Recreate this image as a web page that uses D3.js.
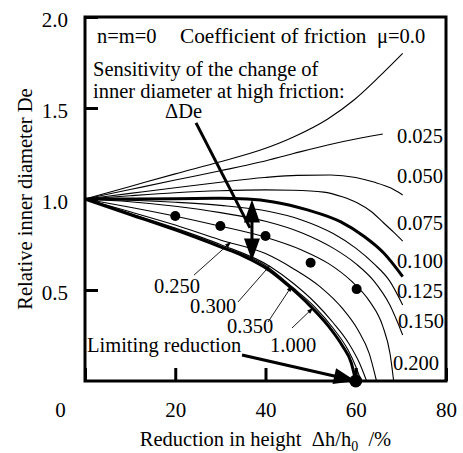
<!DOCTYPE html>
<html><head><meta charset="utf-8">
<script src="https://cdn.jsdelivr.net/npm/d3@7"></script>
<style>
html,body{margin:0;padding:0;background:#fff;}
svg, svg text{font-family:"Liberation Serif", serif !important;}
</style></head><body>
<svg id="chart" width="463" height="453"></svg>
<script>
// ---------------- data ----------------
const xTicks = [0, 20, 40, 60, 80];
const yTicks = [0.5, 1.0, 1.5, 2.0];

// friction curves: [reduction %, relative inner diameter]
const mu0000 = [[0,1],[10,1.069],[20,1.138],[30,1.205],[38.9,1.269],[46.2,1.341],[53.8,1.44],[59.6,1.544],[64.9,1.665],[70.4,1.80]];
const mu0025 = [[0,1],[10,1.052],[20,1.104],[30,1.155],[38.9,1.203],[46.2,1.25],[53.8,1.297],[61.1,1.335],[66,1.357]];
const mu0050 = [[0,1],[10,1.031],[20,1.062],[30,1.092],[39.8,1.118],[47,1.13],[54.4,1.132],[60,1.118],[64,1.093],[67.8,1.06],[70.4,1.022]];
const mu0075 = [[0,1],[10,1.018],[20,1.034],[30,1.045],[40,1.05],[46,1.048],[52.9,1.038],[57,1.012],[60.4,0.978],[63.5,0.93],[66.2,0.868],[68.5,0.815],[70.4,0.769]];
const mu0100 = [[0,1],[10,1.0],[20,1.002],[30,1.004],[36,1.0],[41.8,0.984],[49.3,0.94],[56.7,0.874],[61.8,0.795],[66.2,0.703],[70.4,0.574]];
const mu0125 = [[0,1],[10,0.993],[20,0.982],[30,0.965],[40,0.935],[48,0.885],[55,0.81],[60,0.73],[64,0.645],[67.5,0.55],[70.4,0.418]];
const mu0150 = [[0,1],[10,0.985],[20,0.96],[30,0.925],[40,0.878],[48,0.815],[55,0.73],[60,0.645],[64,0.55],[67.5,0.42],[70.4,0.253]];
const mu0200 = [[0,1],[10,0.955],[19.8,0.907],[29.8,0.852],[40,0.79],[48,0.72],[54,0.645],[59,0.55],[63,0.44],[66,0.3],[67.6,0.15],[68.4,0]];
const mu0250 = [[0,1],[10,0.93],[20,0.857],[30,0.775],[40,0.7],[46,0.62],[52,0.52],[57,0.4],[60.5,0.28],[63,0.15],[64.6,0]];
const mu0300 = [[0,1],[10,0.92],[20,0.84],[30,0.75],[41.1,0.628],[46,0.54],[51,0.43],[55,0.32],[58.5,0.205],[60.8,0.1],[62.4,0]];
const mu0350 = [[0,1],[10,0.917],[20,0.834],[30,0.742],[40,0.635],[46,0.515],[51,0.405],[55,0.29],[58.3,0.17],[60,0.08],[61.2,0]];
const mu1000 = [[0,1],[10,0.915],[20,0.83],[30,0.737],[35,0.688],[40,0.622],[45,0.525],[50,0.41],[54,0.3],[57,0.195],[59,0.1],[60,0]];

const muNames = ["0.0","0.025","0.050","0.075","0.100","0.125","0.150","0.200","0.250","0.300","0.350","1.000"];
const muSeries = [mu0000, mu0025, mu0050, mu0075, mu0100, mu0125, mu0150, mu0200, mu0250, mu0300, mu0350, mu1000];
const muThick = ["0.100", "1.000"];

// experimental points
const dotX = [20, 30, 40, 50, 60.2];
const dotY = [0.907, 0.852, 0.797, 0.65, 0.505];
const limitPoint = [60, 0];

// ---------------- layout ----------------
const svg = d3.select("#chart");
const x = d3.scaleLinear().domain([0, 80]).range([85, 446]);
const y = d3.scaleLinear().domain([0, 2]).range([381, 17]);
const FONT = "Liberation Serif";

const curves = muNames.map((n, i) => ({ name: n, pts: muSeries[i], thick: muThick.includes(n) }));
const byName = Object.fromEntries(curves.map(c => [c.name, c]));
function valueAt(name, xv) {
  const p = byName[name].pts;
  for (let i = 1; i < p.length; i++) {
    if (xv <= p[i][0]) {
      const t = (xv - p[i-1][0]) / (p[i][0] - p[i-1][0]);
      return p[i-1][1] + t * (p[i][1] - p[i-1][1]);
    }
  }
  return p[p.length-1][1];
}

const line = d3.line().x(d => x(d[0])).y(d => y(d[1])).curve(d3.curveMonotoneX);

svg.append("g").selectAll("path").data(curves).join("path")
  .attr("d", d => line(d.pts))
  .attr("fill", "none").attr("stroke", "#000")
  .attr("stroke-width", d => d.thick ? 3 : 1.1)
  .attr("stroke-linejoin", "round");

// dots
svg.append("g").selectAll("circle").data(dotX.map((d, i) => [d, dotY[i]])).join("circle")
  .attr("cx", d => x(d[0])).attr("cy", d => y(d[1])).attr("r", 5).attr("fill", "#000");
svg.append("circle").attr("cx", x(limitPoint[0])).attr("cy", y(limitPoint[1])).attr("r", 6.5).attr("fill", "#000");

// axes
const gx = svg.append("g").attr("transform", `translate(0,${y(0)})`)
  .call(d3.axisBottom(x).tickValues(xTicks).tickSize(-13).tickPadding(21).tickFormat(d3.format("d")));
gx.select(".domain").remove();
gx.attr("font-family", FONT).attr("font-size", 21);
gx.selectAll(".tick line").attr("stroke-width", 3);
gx.selectAll(".tick").filter(d => d === 0).select("text").attr("dx", -25);

const gy = svg.append("g").attr("transform", `translate(${x(0)},0)`)
  .call(d3.axisLeft(y).tickValues(yTicks).tickSize(-13).tickPadding(17).tickFormat(d3.format(".1f")));
gy.select(".domain").remove();
gy.attr("font-family", FONT).attr("font-size", 21);
gy.selectAll(".tick line").attr("stroke-width", 3);
gy.selectAll(".tick text").attr("dy", "0.45em");

// frame
svg.append("rect").attr("x", x(0)).attr("y", y(2)).attr("width", x(80) - x(0)).attr("height", y(0) - y(2))
  .attr("fill", "none").attr("stroke", "#000").attr("stroke-width", 3);

// helper text
function txt(xv, yv, s, opts = {}) {
  return svg.append("text").attr("x", x(xv)).attr("y", y(yv))
    .attr("font-family", FONT).attr("font-size", opts.size || 20.5)
    .attr("text-anchor", opts.anchor || "start")
    .attr("xml:space", "preserve").style("white-space", "pre")
    .text(s);
}
function arrowHead(x1, y1, x2, y2, len, hw) {
  const dx = x2 - x1, dy = y2 - y1, L = Math.hypot(dx, dy);
  const ux = dx / L, uy = dy / L;
  const bx = x2 - ux * len, by = y2 - uy * len;
  return [[x2, y2], [bx - uy * hw, by + ux * hw], [bx + uy * hw, by - ux * hw]];
}
function drawArrow(p1, p2, width, len, hw) {
  const [x1, y1, x2, y2] = [x(p1[0]), y(p1[1]), x(p2[0]), y(p2[1])];
  const L = Math.hypot(x2 - x1, y2 - y1);
  const ex = x2 - (x2 - x1) / L * len * 0.7, ey = y2 - (y2 - y1) / L * len * 0.7;
  svg.append("line").attr("x1", x1).attr("y1", y1).attr("x2", ex).attr("y2", ey)
    .attr("stroke", "#000").attr("stroke-width", width);
  svg.append("polygon").attr("points", arrowHead(x1, y1, x2, y2, len, hw).map(p => p.join(",")).join(" "))
    .attr("fill", "#000");
}

// header texts
txt(2.66, 1.857, "n=m=0");
txt(21.05, 1.857, "Coefficient of friction", { size: 21.3 });
txt(64.7, 1.857, "μ=0.0");
txt(1.77, 1.676, "Sensitivity of the change of");
txt(1.77, 1.555, "inner diameter at high friction:");
txt(17.73, 1.445, "ΔDe");

// μ labels on the right
const rightLabels = [["0.025", 69.14, 1.308], ["0.050", 69.14, 1.088], ["0.075", 69.14, 0.83], ["0.100", 69.14, 0.621],
                     ["0.125", 69.14, 0.456], ["0.150", 69.36, 0.291], ["0.200", 68.25, 0.06]];
rightLabels.forEach(d => txt(d[1], d[2], d[0]));

// μ labels with leaders
const leaderLabels = [
  { name: "0.250", tx: 15.29, ty: 0.484, sx: 24.16, sy: 0.582, tipX: 32.35 },
  { name: "0.300", tx: 23.27, ty: 0.374, sx: 33.9, sy: 0.434, tipX: 41.0 },
  { name: "0.350", tx: 31.47, ty: 0.264, sx: 40.55, sy: 0.324, tipX: 45.87 },
  { name: "1.000", tx: 41.0, ty: 0.159, sx: 45.87, sy: 0.291, tipX: 50.53 }
];
leaderLabels.forEach(d => {
  txt(d.tx, d.ty, d.name);
  drawArrow([d.sx, d.sy], [d.tipX, valueAt(d.name, d.tipX) + 0.006], 0.9, 6, 2.2);
});

// ΔDe pointer and double arrow
svg.append("line").attr("x1", x(24.6)).attr("y1", y(1.418)).attr("x2", x(36.57)).attr("y2", y(0.841))
  .attr("stroke", "#000").attr("stroke-width", 3);
const dX = 37.0;
const topY = y(valueAt("0.100", dX)), botY = y(valueAt("1.000", dX));
svg.append("line").attr("x1", x(dX)).attr("x2", x(dX)).attr("y1", topY + 15).attr("y2", botY - 15)
  .attr("stroke", "#000").attr("stroke-width", 3);
svg.append("polygon").attr("points", arrowHead(x(dX), topY + 30, x(dX), topY, 23, 8).map(p => p.join(",")).join(" ")).attr("fill", "#000");
svg.append("polygon").attr("points", arrowHead(x(dX), botY - 30, x(dX), botY, 22, 8).map(p => p.join(",")).join(" ")).attr("fill", "#000");

// limiting reduction
txt(0.44, 0.159, "Limiting reduction");
drawArrow([34.8, 0.143], limitPoint, 3, 22, 8);

// axis titles
const xt = svg.append("text").attr("x", (x(0) + x(80)) / 2).attr("y", 446)
  .attr("font-family", FONT).attr("font-size", 20.5).attr("text-anchor", "middle")
  .attr("xml:space", "preserve").style("white-space", "pre");
xt.append("tspan").text("Reduction in height  Δh/h");
xt.append("tspan").attr("font-size", 14).attr("dy", 5).text("0");
xt.append("tspan").attr("dy", -5).text("  /%");

svg.append("text").attr("transform", `translate(32,${(y(0) + y(2)) / 2}) rotate(-90)`)
  .attr("font-family", FONT).attr("font-size", 20.5).attr("text-anchor", "middle")
  .text("Relative inner diameter De");
</script>
</body></html>
